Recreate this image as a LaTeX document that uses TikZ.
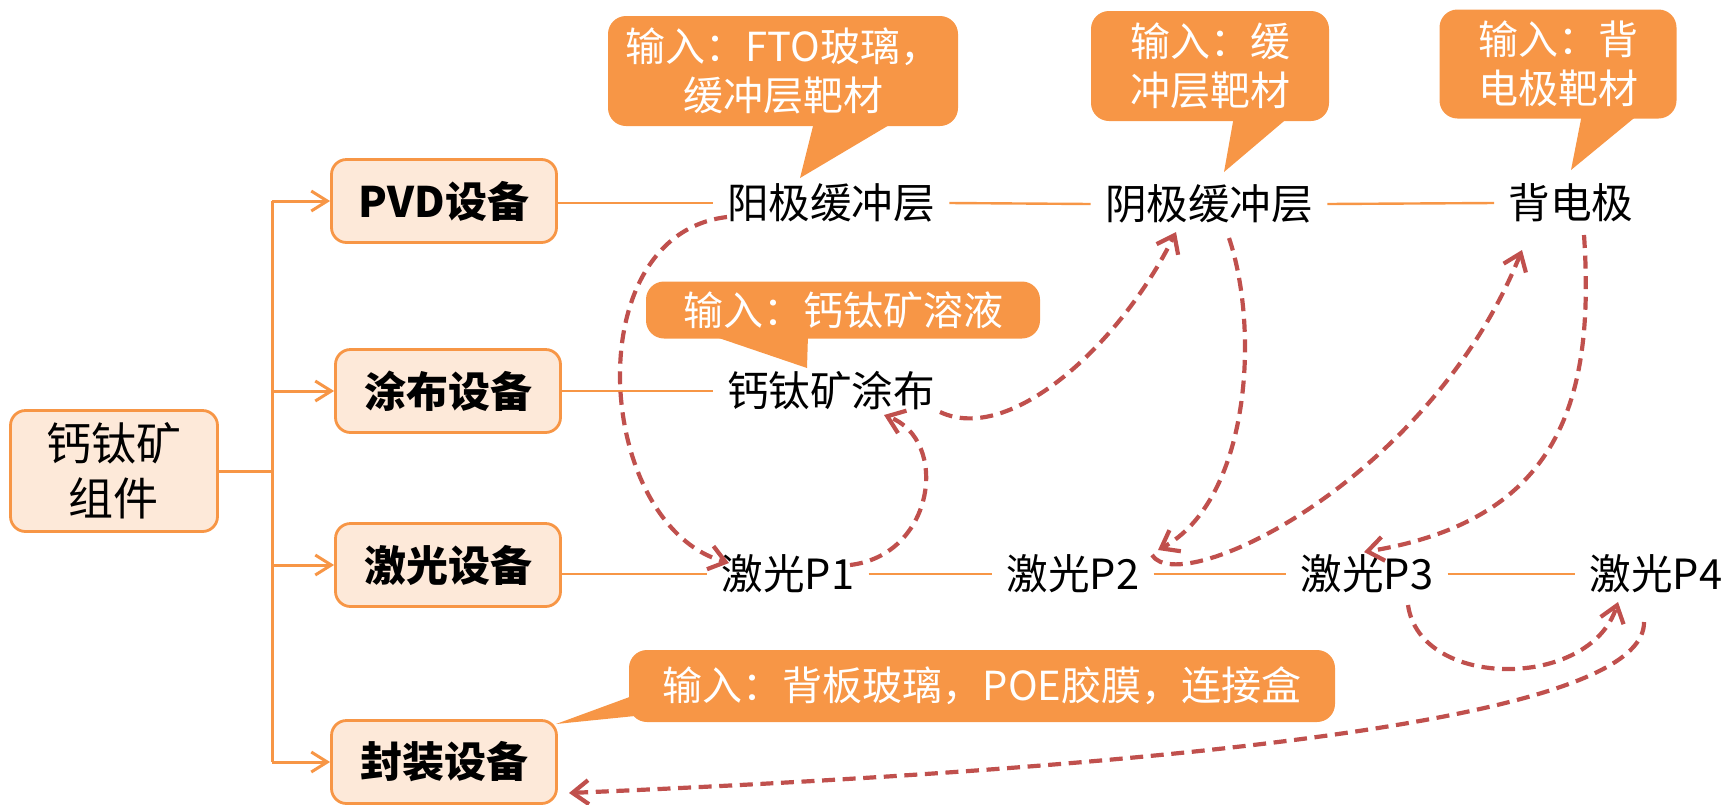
\documentclass[tikz,border=0pt]{standalone}
\usepackage{fontspec}
\setmainfont{Noto Sans CJK SC}
\usetikzlibrary{arrows.meta,calc}
\definecolor{org}{HTML}{F79646}
\definecolor{lorg}{HTML}{FDE9D9}
\definecolor{dred}{HTML}{C0504D}
\begin{document}
\begin{tikzpicture}[x=0.5pt,y=-0.5pt,
 box/.style={draw=org, fill=lorg, line width=1.4pt, rounded corners=7.5pt, minimum width=112.5pt, minimum height=41.5pt, font=\fontsize{21pt}{25pt}\selectfont\bfseries},
 lbl/.style={inner xsep=7pt, inner ysep=3pt, font=\fontsize{20.8pt}{24pt}\selectfont},
 bubble/.style={fill=org, rounded corners=9pt, text=white, align=center, font=\fontsize{20pt}{24.5pt}\selectfont},
 tail/.style={fill=org},
 tree/.style={draw=org, line width=1.5pt},
 treearr/.style={tree, -{Straight Barb[length=8pt,width=10pt]}},
 link/.style={draw=org, line width=1.2pt},
 flow/.style={draw=dred, line width=2.1pt, dash pattern=on 6.5pt off 3.8pt, -{Straight Barb[length=8pt,width=12pt]}}
]
\useasboundingbox (0,0) rectangle (1723,804);

% equipment boxes
\node[box, font=\fontsize{22.5pt}{27.5pt}\selectfont, minimum width=103.5pt, minimum height=60.5pt, align=center] (root) at (114,471) {钙钛矿\\组件};
\node[box] (pvd) at (444,201) {PVD设备};
\node[box] (coat) at (448,391) {涂布设备};
\node[box] (laser) at (448,565) {激光设备};
\node[box] (pack) at (444,762) {封装设备};

% tree
\coordinate (tj) at (272,471);
\draw[tree] (root.east) -- (tj);
\draw[tree] (tj |- pvd) -- (tj |- pack);
\foreach \n in {pvd,coat,laser,pack} \draw[treearr] (tj |- \n) -- (\n.west);

% process steps
\node[lbl] (a1) at (831,203) {阳极缓冲层};
\node[lbl] (a2) at (1209,204) {阴极缓冲层};
\node[lbl] (a3) at (1571,203) {背电极};
\node[lbl] (c1) at (831,391) {钙钛矿涂布};
\node[lbl] (l1) at (788,574) {激光P1};
\node[lbl] (l2) at (1073,574) {激光P2};
\node[lbl] (l3) at (1367,574) {激光P3};
\node[lbl] (l4) at (1656,574) {激光P4};

\draw[link] (a1.west -| pvd.east) -- (a1.west);
\draw[link] (a1.east) -- (a2.west);
\draw[link] (a2.east) -- (a3.west);
\draw[link] (c1.west -| coat.east) -- (c1.west);
\draw[link] (l1.west -| laser.east) -- (l1.west);
\draw[link] (l1.east) -- (l2.west);
\draw[link] (l2.east) -- (l3.west);
\draw[link] (l3.east) -- (l4.west);

% callouts
\node[bubble, minimum width=175pt, minimum height=55pt] (b1) at (783,71) {输入：FTO玻璃，\\缓冲层靶材};
\fill[tail] (815,118) -- (901,118) -- (800,178) -- cycle;
\node[bubble, minimum width=119pt, minimum height=55pt] (b2) at (1210,66) {输入：缓\\冲层靶材};
\fill[tail] (1234,116) -- (1290,116) -- (1224,172) -- cycle;
\node[bubble, minimum width=118.5pt, minimum height=54.5pt] (b3) at (1558,64) {输入：背\\电极靶材};
\fill[tail] (1582,114) -- (1639,114) -- (1571,170) -- cycle;
\node[bubble, minimum width=197pt, minimum height=28.5pt] (b4) at (843,310) {输入：钙钛矿溶液};
\fill[tail] (710,335) -- (808,335) -- (807,368) -- cycle;
\node[bubble, minimum width=353pt, minimum height=36pt] (b5) at (982,686) {输入：背板玻璃，POE胶膜，连接盒};
\fill[tail] (635,695) -- (556,724) -- (635,716) -- cycle;

% process flow
\draw[flow] ($(a1)+(-104,14)$) .. controls (575,235) and (595,525) .. ($(l1)+(-59,-11)$);
\draw[flow] ($(l1)+(62,-9)$) .. controls (935,555) and (950,440) .. ($(c1)+(53,24)$);
\draw[flow] ($(c1)+(109,21)$) .. controls (1010,445) and (1120,345) .. ($(a2)+(-33,28)$);
\draw[flow] ($(a2)+(20,34)$) .. controls (1260,330) and (1250,500) .. ($(l2)+(85,-24)$);
\draw[flow] ($(l2)+(79,-19)$) .. controls (1180,600) and (1430,480) .. ($(a3)+(-49,47)$);
\draw[flow] ($(a3)+(13,32)$) .. controls (1595,400) and (1560,520) .. ($(l3)+(-3,-22)$);
\draw[flow] ($(l3)+(41,31)$) .. controls (1420,690) and (1590,690) .. ($(l4)+(-38,28)$);
\draw[flow] ($(l4)+(-12,48)$) .. controls (1645,700) and (1350,760) .. ($(pack)+(125,31)$);
\end{tikzpicture}
\end{document}
